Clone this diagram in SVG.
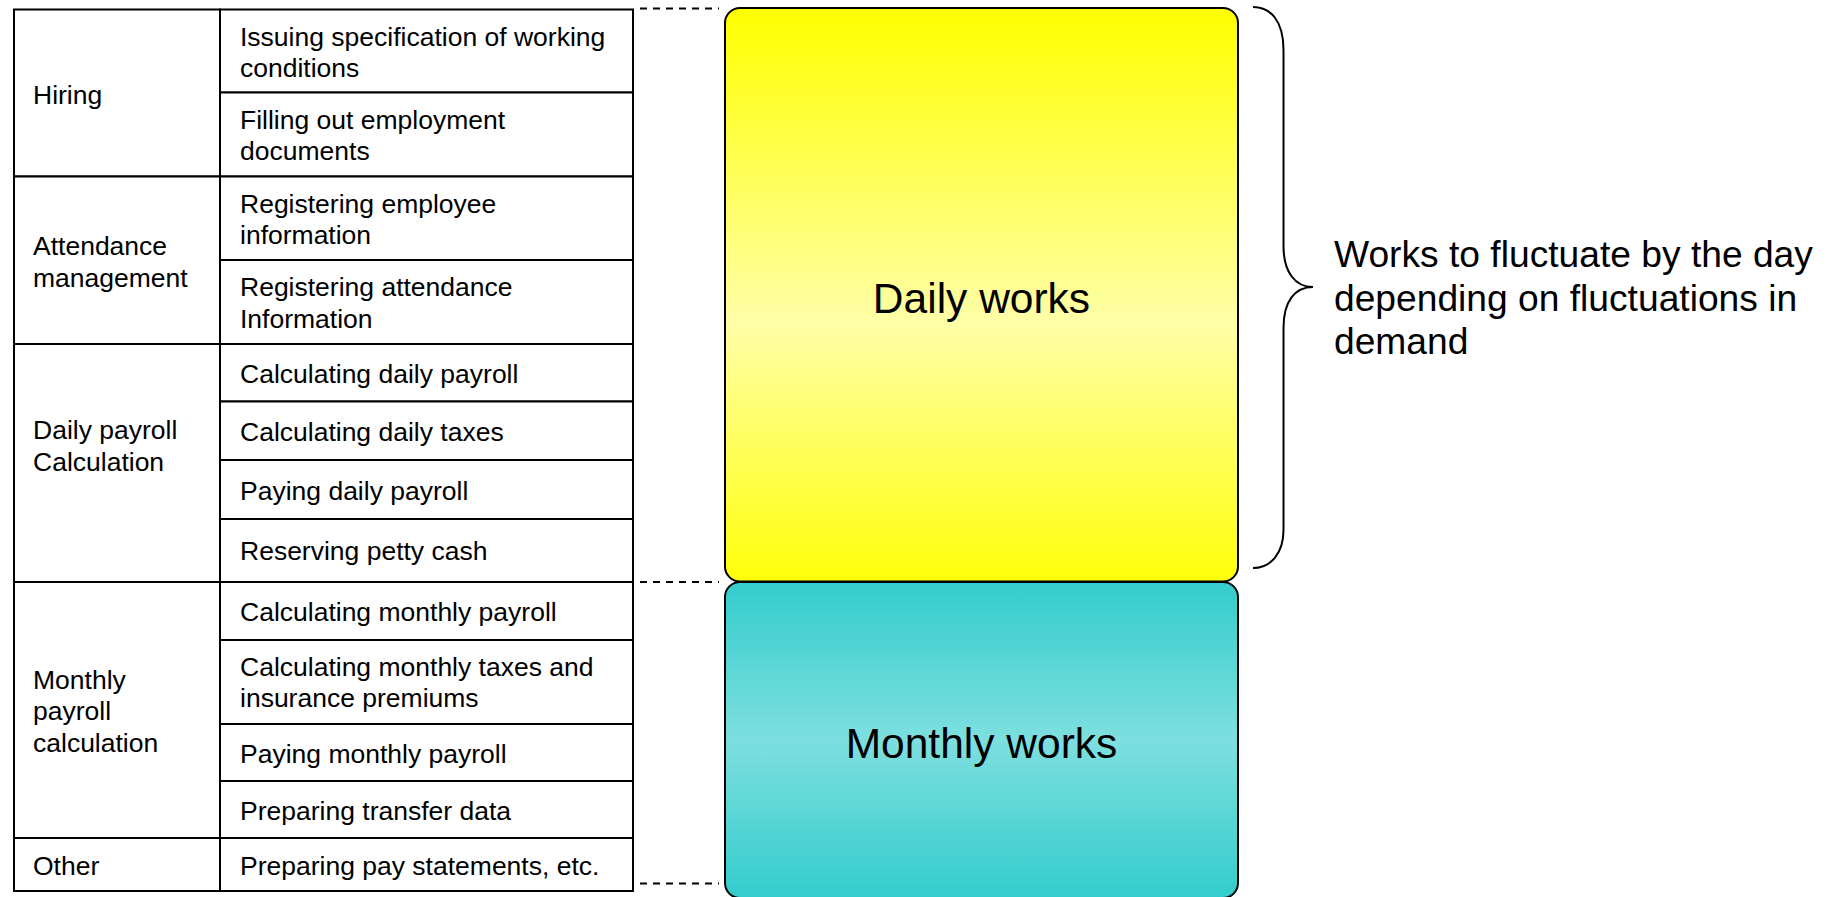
<svg xmlns="http://www.w3.org/2000/svg" width="1830" height="897" viewBox="0 0 1830 897">
<defs>
<linearGradient id="gYellow" x1="0" y1="0" x2="0" y2="1">
<stop offset="0" stop-color="#FFFF00"/>
<stop offset="0.55" stop-color="#FFFFA8"/>
<stop offset="1" stop-color="#FFFF0A"/>
</linearGradient>
<linearGradient id="gCyan" x1="0" y1="0" x2="0" y2="1">
<stop offset="0" stop-color="#33CCCC"/>
<stop offset="0.5" stop-color="#7EDFDF"/>
<stop offset="1" stop-color="#33CCCC"/>
</linearGradient>
</defs>
<style>
.cell{fill:#FFFFFF;stroke:#000000;stroke-width:2}
.t{font-family:"Liberation Sans",Arial,sans-serif;font-size:26.5px;fill:#000000}
.big{font-family:"Liberation Sans",Arial,sans-serif;font-size:42.5px;fill:#000000;text-anchor:middle}
.note{font-family:"Liberation Sans",Arial,sans-serif;font-size:37.2px;fill:#000000}
.dash{stroke:#000000;stroke-width:2;stroke-dasharray:7 6;fill:none}
.box{stroke:#000000;stroke-width:2}
</style>
<rect width="1830" height="897" fill="#FFFFFF"/>

<g id="cat-hiring"><rect class="cell" x="14" y="9.5" width="206" height="167"/><text class="t" x="33" y="103.5">Hiring</text></g>
<g id="cat-attendance"><rect class="cell" x="14" y="176.5" width="206" height="167.5"/><text class="t" x="33" y="254.5">Attendance</text><text class="t" x="33" y="286.5">management</text></g>
<g id="cat-daily"><rect class="cell" x="14" y="344" width="206" height="238"/><text class="t" x="33" y="439">Daily payroll</text><text class="t" x="33" y="470.5">Calculation</text></g>
<g id="cat-monthly"><rect class="cell" x="14" y="582" width="206" height="256"/><text class="t" x="33" y="689">Monthly</text><text class="t" x="33" y="720">payroll</text><text class="t" x="33" y="751.5">calculation</text></g>
<g id="cat-other"><rect class="cell" x="14" y="838" width="206" height="53"/><text class="t" x="33" y="874.5">Other</text></g>

<g id="task-1"><rect class="cell" x="220" y="9.5" width="413" height="83"/><text class="t" x="240" y="45.5">Issuing specification of working</text><text class="t" x="240" y="77">conditions</text></g>
<g id="task-2"><rect class="cell" x="220" y="92.5" width="413" height="84"/><text class="t" x="240" y="128.5">Filling out employment</text><text class="t" x="240" y="160">documents</text></g>
<g id="task-3"><rect class="cell" x="220" y="176.5" width="413" height="83.5"/><text class="t" x="240" y="212.5">Registering employee</text><text class="t" x="240" y="244">information</text></g>
<g id="task-4"><rect class="cell" x="220" y="260" width="413" height="84"/><text class="t" x="240" y="296">Registering attendance</text><text class="t" x="240" y="327.5">Information</text></g>
<g id="task-5"><rect class="cell" x="220" y="344" width="413" height="57.5"/><text class="t" x="240" y="382.5">Calculating daily payroll</text></g>
<g id="task-6"><rect class="cell" x="220" y="401.5" width="413" height="58.5"/><text class="t" x="240" y="440.5">Calculating daily taxes</text></g>
<g id="task-7"><rect class="cell" x="220" y="460" width="413" height="59"/><text class="t" x="240" y="499.5">Paying daily payroll</text></g>
<g id="task-8"><rect class="cell" x="220" y="519" width="413" height="63"/><text class="t" x="240" y="559.5">Reserving petty cash</text></g>
<g id="task-9"><rect class="cell" x="220" y="582" width="413" height="58"/><text class="t" x="240" y="620.5">Calculating monthly payroll</text></g>
<g id="task-10"><rect class="cell" x="220" y="640" width="413" height="84"/><text class="t" x="240" y="675.5">Calculating monthly taxes and</text><text class="t" x="240" y="707">insurance premiums</text></g>
<g id="task-11"><rect class="cell" x="220" y="724" width="413" height="57"/><text class="t" x="240" y="762.5">Paying monthly payroll</text></g>
<g id="task-12"><rect class="cell" x="220" y="781" width="413" height="57"/><text class="t" x="240" y="819.5">Preparing transfer data</text></g>
<g id="task-13"><rect class="cell" x="220" y="838" width="413" height="53"/><text class="t" x="240" y="874.5">Preparing pay statements, etc.</text></g>

<g id="daily-works"><rect class="box" x="725" y="8" width="513" height="573.5" rx="15" ry="15" fill="url(#gYellow)"/><text class="big" x="981.5" y="312.5">Daily works</text></g>
<g id="monthly-works"><rect class="box" x="725" y="582" width="513" height="316" rx="15" ry="15" fill="url(#gCyan)"/><text class="big" x="981.5" y="758">Monthly works</text></g>

<g id="note"><text class="note" x="1334" y="267">Works to fluctuate by the day</text><text class="note" x="1334" y="310.5">depending on fluctuations in</text><text class="note" x="1334" y="354">demand</text></g>

<g id="connectors">
<line class="dash" x1="640" y1="8.5" x2="719" y2="8.5"/>
<line class="dash" x1="640" y1="582" x2="719" y2="582"/>
<line class="dash" x1="640" y1="883.5" x2="719" y2="883.5"/>
<path d="M1253,7 C1270,7 1283.5,20 1283.5,50 L1283.5,246 C1283.5,272 1295,287 1313,287 C1295,287 1283.5,301 1283.5,328 L1283.5,530 C1283.5,553 1271,568 1253,568" fill="none" stroke="#000000" stroke-width="2"/>
</g>
</svg>
